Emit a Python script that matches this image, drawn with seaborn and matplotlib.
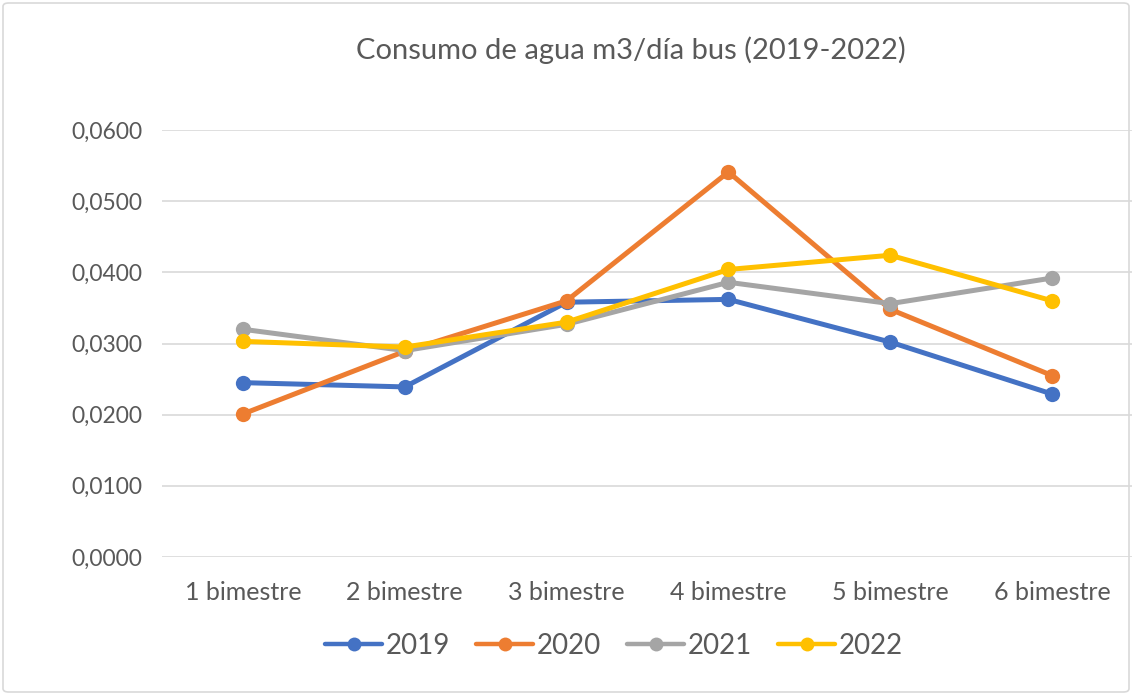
import matplotlib
matplotlib.use("Agg")
import matplotlib.pyplot as plt
import seaborn as sns
import pandas as pd
from matplotlib.ticker import FuncFormatter, MultipleLocator
from matplotlib.patches import FancyBboxPatch

categories = ["1 bimestre", "2 bimestre", "3 bimestre", "4 bimestre", "5 bimestre", "6 bimestre"]
v2019 = [0.0245, 0.0239, 0.0358, 0.0362, 0.0302, 0.0229]
v2020 = [0.0201, 0.0289, 0.0360, 0.0541, 0.0348, 0.0255]
v2021 = [0.0320, 0.0290, 0.0327, 0.0386, 0.0356, 0.0392]
v2022 = [0.0303, 0.0295, 0.0330, 0.0404, 0.0424, 0.0360]
years = ["2019", "2020", "2021", "2022"]
colors = ["#4472C4", "#ED7D31", "#A5A5A5", "#FFC000"]

series = [v2019, v2020, v2021, v2022]
rows = []
for y, vals in zip(years, series):
    for c, v in zip(categories, vals):
        rows.append({"bimestre": c, "valor": v, "año": y})
df = pd.DataFrame(rows)

sns.set_theme(style="white")
plt.rcParams["font.family"] = ["Lato", "DejaVu Sans"]
text_color = "#595959"

fig = plt.figure(figsize=(11.32, 6.95), dpi=100)
ax = fig.add_axes([162 / 1132, 1 - 557 / 695, (1133 - 162) / 1132, (557 - 130) / 695])

sns.lineplot(data=df, x="bimestre", y="valor", hue="año", palette=colors,
             marker="o", markersize=11, markeredgewidth=0, linewidth=3.6,
             sort=False, ax=ax, legend=True)

ax.set_xlim(-0.5, 5.5)
ax.set_ylim(0, 0.06)
ax.yaxis.set_major_locator(MultipleLocator(0.01))
ax.yaxis.set_major_formatter(FuncFormatter(lambda v, p: f"{v:.4f}".replace(".", ",")))
ax.grid(axis="y", color="#D9D9D9", linewidth=1.2)
ax.grid(axis="x", visible=False)
for s in ax.spines.values():
    s.set_visible(False)
ax.tick_params(axis="y", length=0, labelsize=16.5, colors=text_color, pad=14)
ax.tick_params(axis="x", length=0, labelsize=18, colors=text_color, pad=17)
ax.set_xlabel("")
ax.set_ylabel("")

fig.text(631 / 1132, 1 - 50 / 695, "Consumo de agua m3/día bus (2019-2022)",
         ha="center", va="center", fontsize=21, color=text_color)

handles, labels = ax.get_legend_handles_labels()
for h in handles:
    h.set_linewidth(3.2)
    h.set_markersize(10)
ax.legend(handles, labels, loc="center", bbox_to_anchor=(614 / 1132, 1 - 646 / 695), bbox_transform=fig.transFigure,
          ncol=4, frameon=False, fontsize=20, labelcolor=text_color,
          handlelength=2.05, handletextpad=0.12, columnspacing=0.95)

border = FancyBboxPatch((3 / 1132, 3 / 695), 1 - 6 / 1132, 1 - 6 / 695,
                        boxstyle="round,pad=0,rounding_size=0.005",
                        transform=fig.transFigure, fill=False,
                        edgecolor="#D9D9D9", linewidth=1.2)
fig.patches.append(border)

fig.savefig("out.png", dpi=100, facecolor="white")
